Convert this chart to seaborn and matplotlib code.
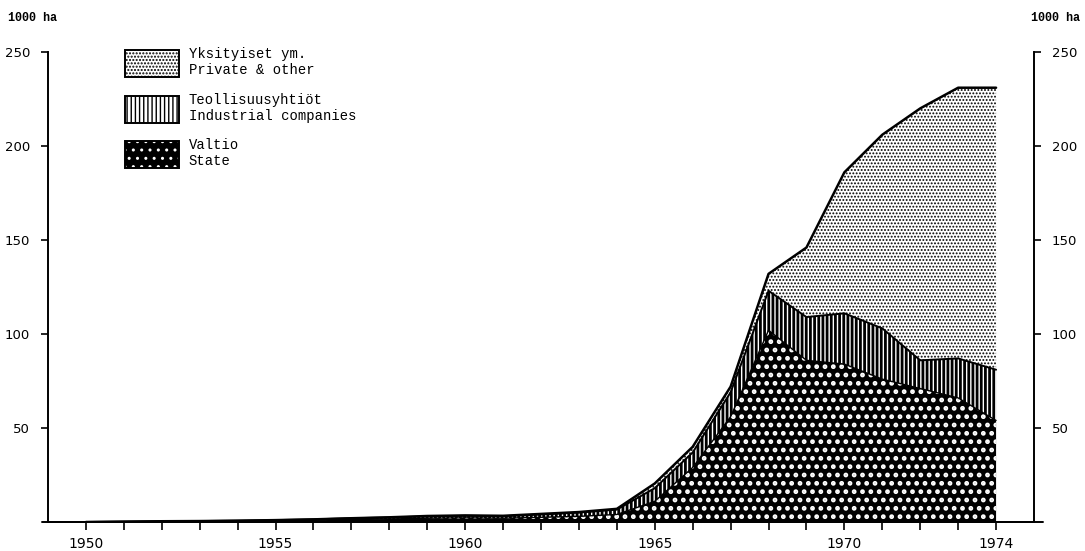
import matplotlib

matplotlib.use("Agg")
import matplotlib.pyplot as plt
import pandas as pd
import seaborn as sns
from matplotlib.patches import Patch

# values in 1000 ha
YEARS = list(range(1950, 1975))
STATE = [0, 0.1, 0.2, 0.3, 0.4, 0.6, 0.9, 1.3, 1.6, 2.0, 2.2, 2.0, 2.5, 3.0, 4.0,
         11, 29, 56, 102, 86, 84, 76, 71, 66, 54]
INDUSTRIAL = [0, 0.1, 0.2, 0.2, 0.3, 0.4, 0.5, 0.7, 0.8, 1.0, 1.1, 1.1, 1.5, 2.0, 2.6,
              7, 8, 13, 21, 23, 27, 27, 15, 21, 27]
PRIVATE = [0, 0, 0, 0, 0, 0, 0, 0, 0.1, 0.2, 0.2, 0.2, 0.3, 0.3, 0.4,
           2.5, 3, 3, 9, 37, 75, 103, 134, 144, 150]

LEGEND_LABELS = [
    "Yksityiset ym.\nPrivate & other",
    "Teollisuusyhtiöt\nIndustrial companies",
    "Valtio\nState",
]
LABELLED_YEARS = [1950, 1955, 1960, 1965, 1970, 1974]
Y_TICKS = [50, 100, 150, 200, 250]
UNIT = "1000 ha"

sns.set_theme(
    style="ticks",
    rc={
        "axes.edgecolor": "black",
        "xtick.color": "black",
        "ytick.color": "black",
        "text.color": "black",
    },
)
plt.rcParams["font.family"] = ["DejaVu Sans"]

df = pd.DataFrame({"year": YEARS, "state": STATE, "industrial": INDUSTRIAL, "private": PRIVATE})
df["state_top"] = df["state"]
df["industrial_top"] = df["state"] + df["industrial"]
df["total"] = df["industrial_top"] + df["private"]

fig = plt.figure(figsize=(10.85, 5.51), dpi=100)
ax = fig.add_axes([48 / 1085, 29 / 551, 986 / 1085, 470 / 551])

# pattern fills; hatch line width per layer
STYLES = {
    "private": dict(facecolor="white", edgecolor="black", hatch="....."),
    "industrial": dict(facecolor="white", edgecolor="black", hatch="||||"),
    "state": dict(facecolor="black", edgecolor="white", hatch=".."),
}
HATCH_LW = {"private": 0.9, "industrial": 2.0, "state": 2.2}

with plt.rc_context({"hatch.linewidth": HATCH_LW["state"]}):
    ax.fill_between(df["year"], 0, df["state_top"], linewidth=0, **STYLES["state"])
with plt.rc_context({"hatch.linewidth": HATCH_LW["industrial"]}):
    ax.fill_between(df["year"], df["state_top"], df["industrial_top"], linewidth=0,
                    **STYLES["industrial"])
with plt.rc_context({"hatch.linewidth": HATCH_LW["private"]}):
    ax.fill_between(df["year"], df["industrial_top"], df["total"], linewidth=0,
                    **STYLES["private"])

sns.lineplot(data=df, x="year", y="state_top", color="black", linewidth=1.0, ax=ax)
sns.lineplot(data=df, x="year", y="industrial_top", color="black", linewidth=1.4, ax=ax)
sns.lineplot(data=df, x="year", y="total", color="black", linewidth=1.8, ax=ax)
ax.set(xlabel="", ylabel="")

ax.set_xlim(1949, 1975)
ax.set_ylim(0, 250)
ax.set_xticks(YEARS)
ax.set_xticklabels([str(y) if y in LABELLED_YEARS else "" for y in YEARS])
ax.set_yticks(Y_TICKS)
ax.tick_params(axis="x", direction="out", length=6, width=1.2, pad=5, labelsize=10)
ax.tick_params(axis="y", direction="out", left=True, right=True, labelleft=True,
               labelright=True, length=5, width=1.2, pad=8, labelsize=9.5)
ax.spines["top"].set_visible(False)
for side in ("left", "right", "bottom"):
    ax.spines[side].set_linewidth(1.4)
# base line runs a little past both side axes
ax.axhline(0, xmin=-0.006, xmax=1.009, color="black", linewidth=1.4, clip_on=False)

handles = []
for key in ("private", "industrial", "state"):
    with plt.rc_context({"hatch.linewidth": HATCH_LW[key]}):
        fill = Patch(linewidth=0, **STYLES[key])
    handles.append((fill, Patch(facecolor="none", edgecolor="black", linewidth=1.4)))

ax.legend(
    handles,
    LEGEND_LABELS,
    loc="upper left",
    bbox_to_anchor=(0.078, 1.010),
    frameon=False,
    prop={"family": "Liberation Mono", "size": 10},
    handlelength=3.9,
    handleheight=2.6,
    handletextpad=0.7,
    labelspacing=1.1,
    borderpad=0,
    borderaxespad=0,
)

unit_font = dict(family="Liberation Mono", weight="bold", fontsize=8.5, va="center")
fig.text(8 / 1085, 1 - 18 / 551, UNIT, ha="left", **unit_font)
fig.text(1080 / 1085, 1 - 18 / 551, UNIT, ha="right", **unit_font)

fig.savefig("out.png", dpi=100)
